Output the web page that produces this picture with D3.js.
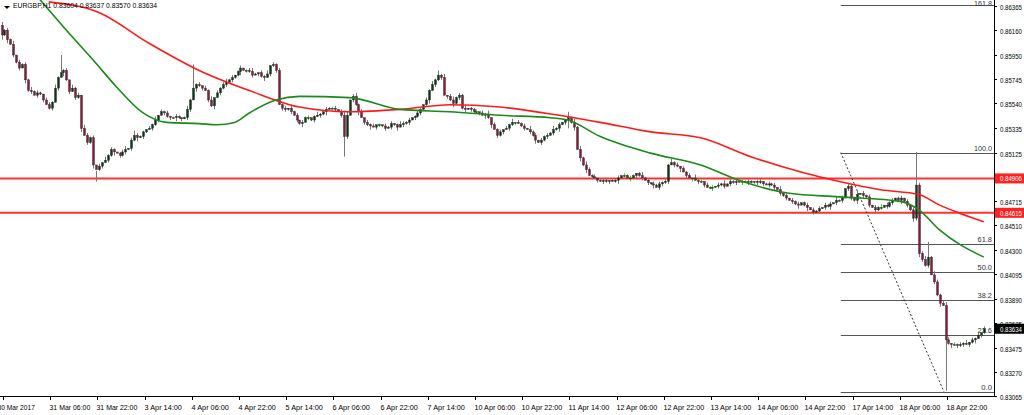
<!DOCTYPE html>
<html>
<head>
<meta charset="utf-8">
<script src="https://cdn.jsdelivr.net/npm/d3@7"></script>
<style>
  body { margin: 0; background: #fff; }
  text { font-family: "Liberation Sans", Arial, sans-serif; font-size: 8px; }
</style>
</head>
<body>
<svg id="chart"></svg>
<script>
let width = 1024;
let height = 415;
let plotRight = 994;
let plotBottom = 396;

// closes in pips (0.0001), one per hourly bar
let closes = [
  8612,8616,8608,8604,8595,8589,8584,8587,8574,8565,8564,8561,8563,8562,8557,8553,
  8550,8555,8567,8576,8580,8582,8574,8564,8567,8559,8561,8533,8527,8521,8525,8502,
  8498,8501,8504,8506,8510,8515,8513,8512,8510,8513,8515,8516,8523,8527,8525,8526,
  8530,8532,8533,8536,8540,8544,8547,8546,8543,8542,8542,8543,8542,8541,8542,8549,
  8557,8567,8570,8569,8567,8565,8557,8552,8559,8563,8567,8570,8572,8574,8576,8578,
  8581,8584,8582,8582,8581,8578,8579,8580,8577,8576,8579,8586,8587,8582,8553,8550,
  8549,8550,8547,8544,8540,8537,8538,8542,8542,8540,8543,8544,8545,8547,8549,8550,
  8550,8549,8547,8544,8526,8544,8557,8560,8553,8547,8542,8538,8536,8535,8534,8536,
  8536,8535,8533,8534,8537,8536,8534,8536,8537,8538,8540,8542,8543,8546,8549,8553,
  8557,8565,8570,8574,8578,8576,8561,8560,8557,8554,8559,8561,8550,8549,8550,8549,
  8547,8547,8546,8544,8545,8542,8536,8532,8527,8530,8532,8533,8536,8538,8538,8537,
  8535,8533,8532,8530,8527,8523,8521,8523,8526,8527,8529,8532,8533,8536,8538,8540,
  8542,8538,8534,8515,8508,8502,8498,8493,8492,8491,8489,8488,8489,8488,8489,8488,
  8489,8491,8493,8493,8491,8491,8493,8495,8493,8491,8489,8487,8486,8485,8483,8486,
  8487,8488,8502,8504,8502,8501,8499,8496,8493,8491,8491,8489,8488,8488,8485,8483,
  8483,8483,8484,8485,8486,8484,8486,8488,8487,8488,8488,8488,8488,8487,8488,8488,
  8487,8488,8486,8485,8486,8485,8483,8481,8478,8476,8474,8472,8471,8469,8468,8470,
  8468,8466,8464,8462,8463,8465,8466,8468,8467,8469,8470,8472,8472,8474,8482,8484,
  8474,8472,8477,8478,8476,8475,8468,8466,8464,8466,8466,8468,8467,8470,8472,8474,
  8472,8474,8471,8468,8464,8457,8485,8427,8422,8417,8424,8409,8403,8392,8385,8383,
  8354,8351,8350,8350,8349,8350,8351,8350,8352,8354,8355,8358,8360,8363.4
];
let firstOpen = 8620;

// upper / lower wick lengths in pips, one digit per bar
let upperWicks =
  "3121302121312102" + "2131512031203212" + "1203121012302421" + "1021302120121013" +
  "1312021302123120" + "1201231021302121" + "2031202120131021" + "1202130231202120" +
  "1021201321201210" + "2131513023121201" + "1202130212021302" + "1203120212131201" +
  "2131313212021202" + "1202121013120212" + "1213120212031202" + "1202130212021210" +
  "1201212031202120" + "1202120212031202" + "2130212021302120" + "1202121223213212" +
  "1202121302120212";
let lowerWicks =
  "2130212031202120" + "1202131202130213" + "2120213021202130" + "2102120212031202" +
  "2031202130212021" + "1302120213021202" + "2120213021202130" + "1202120213021302" +
  "2120213021202120" + "1302120213021202" + "2120313021202120" + "1202130212021302" +
  "2130313021202120" + "1302130212021302" + "2120213021302120" + "1302120212031202" +
  "2120213021202130" + "1302120213021202" + "2130212031202120" + "1302130321202130" +
  "2130212021302120";
// bars with long wicks: [bar, high, low]
let spikeBars = [
  [0, 8623, 8608], [20, 8595, 8578], [32, 8497, 8488], [65, 8587, 8564],
  [116, 8548, 8509], [148, 8582, 8573], [192, 8547, 8533], [310, 8513, 8455],
  [314, 8437, 8415], [320, 8386, 8311]
];

// moving averages sampled at bar positions (pips)
let redMaBars = [16,33,50,67,84,101,118,135,152,169,189,203,220,237,254,271,284,298,311,318,325,333];
let redMaVals = [8640,8631,8605,8582,8565,8551,8547,8549,8553,8551,8544,8538,8530,8525,8509,8496,8488,8481,8477,8468,8461,8454];
let greenMaBars = [13,22,31,39,48,56,67,73,79,84,93,101,118,135,152,169,186,192,203,220,237,250,267,284,305,311,318,333];
let greenMaVals = [8642,8616,8591,8568,8546,8538,8537,8536,8538,8546,8557,8560,8559,8549,8547,8544,8542,8540,8526,8512,8502,8489,8478,8475,8471,8464,8447,8424];

let priceTicks = [0.86365,0.86160,0.85950,0.85745,0.85540,0.85335,0.85125,0.84715,0.84510,0.84300,0.84095,0.83890,0.83685,0.83475,0.83270,0.83065];
let timeLabels = ["30 Mar 2017","31 Mar 06:00","31 Mar 22:00","3 Apr 14:00","4 Apr 06:00","4 Apr 22:00",
  "5 Apr 14:00","6 Apr 06:00","6 Apr 22:00","7 Apr 14:00","10 Apr 06:00","10 Apr 22:00","11 Apr 14:00",
  "12 Apr 06:00","12 Apr 22:00","13 Apr 14:00","14 Apr 06:00","14 Apr 22:00","17 Apr 14:00","18 Apr 06:00","18 Apr 22:00"];
let levels = [0.84906, 0.84615];
let lastPrice = 0.83634;
let fibHigh = 0.85125, fibLow = 0.83100;
let fibRatios = [0, 23.6, 38.2, 50, 61.8, 100, 161.8];

let bars = closes.map((c, i) => {
  let o = i === 0 ? firstOpen : closes[i - 1];
  let h = Math.max(o, c) + +upperWicks[i];
  let l = Math.min(o, c) - +lowerWicks[i];
  return { i, o: o / 1e4, c: c / 1e4, h: h / 1e4, l: l / 1e4 };
});
spikeBars.forEach(([i, h, l]) => { bars[i].h = h / 1e4; bars[i].l = l / 1e4; });

let xScale = d3.scaleLinear().domain([0, 333]).range([1.5, 983.85]);
let yScale = d3.scaleLinear().domain([0.83065, 0.86365]).range([plotBottom, 6]);

let svg = d3.select('#chart').attr('width', width).attr('height', height);

svg.append('defs').append('clipPath').attr('id', 'plot')
  .append('rect').attr('x', 0).attr('y', 0).attr('width', plotRight).attr('height', plotBottom);
let plot = svg.append('g').attr('clip-path', 'url(#plot)');

// support lines
plot.selectAll('.level').data(levels).enter().append('line')
  .attr('x1', 0).attr('x2', plotRight)
  .attr('y1', d => yScale(d)).attr('y2', d => yScale(d))
  .attr('stroke', '#ff3030').attr('stroke-width', 2);

// fibonacci
let fibX0 = xScale(284.5);
let fibPrice = r => fibLow + (fibHigh - fibLow) * r / 100;
plot.selectAll('.fib').data(fibRatios).enter().append('line')
  .attr('x1', fibX0).attr('x2', plotRight)
  .attr('y1', d => Math.round(yScale(fibPrice(d))) + 0.5).attr('y2', d => Math.round(yScale(fibPrice(d))) + 0.5)
  .attr('stroke', '#555').attr('stroke-width', 1);
plot.selectAll('.fibText').data(fibRatios).enter().append('text')
  .attr('x', plotRight - 2).attr('y', d => Math.max(6, yScale(fibPrice(d)) - 2))
  .attr('text-anchor', 'end').attr('fill', '#333')
  .attr('textLength', d => d.toFixed(1).length * 3.6).attr('lengthAdjust', 'spacingAndGlyphs')
  .text(d => d.toFixed(1));
plot.append('line')
  .attr('x1', fibX0).attr('y1', yScale(fibHigh)).attr('x2', xScale(319.5)).attr('y2', yScale(fibLow))
  .attr('stroke', '#333').attr('stroke-dasharray', '2,2');

// candles
let candle = plot.selectAll('.bar').data(bars).enter().append('g');
candle.append('line')
  .attr('x1', d => Math.round(xScale(d.i)) + 0.5).attr('x2', d => Math.round(xScale(d.i)) + 0.5)
  .attr('y1', d => yScale(d.h)).attr('y2', d => yScale(d.l))
  .attr('stroke', d => d.c === d.o ? '#00ff00' : '#777').attr('stroke-width', 1);
candle.append('rect')
  .attr('x', d => Math.round(xScale(d.i)) - 0.5)
  .attr('width', 2)
  .attr('y', d => yScale(Math.max(d.o, d.c)))
  .attr('height', d => Math.max(1, Math.abs(yScale(d.o) - yScale(d.c))))
  .attr('fill', d => d.c > d.o ? '#0a3a12' : '#8a1c3a')
  .attr('stroke', '#222').attr('stroke-width', 0.4);

// moving averages
let line = d3.line().x(d => xScale(d[0])).y(d => yScale(d[1] / 1e4)).curve(d3.curveMonotoneX);
plot.append('path').datum(redMaBars.map((b, k) => [b, redMaVals[k]]))
  .attr('d', line).attr('fill', 'none').attr('stroke', '#ff1a1a').attr('stroke-width', 1.6);
plot.append('path').datum(greenMaBars.map((b, k) => [b, greenMaVals[k]]))
  .attr('d', line).attr('fill', 'none').attr('stroke', '#1a8a1a').attr('stroke-width', 1.6);

// price axis
svg.append('line').attr('x1', plotRight + 0.5).attr('x2', plotRight + 0.5).attr('y1', 0).attr('y2', plotBottom + 1).attr('stroke', '#000');
svg.append('line').attr('x1', 0).attr('x2', plotRight + 1).attr('y1', plotBottom + 0.5).attr('y2', plotBottom + 0.5).attr('stroke', '#000');
let pAxis = svg.selectAll('.ptick').data(priceTicks).enter().append('g')
  .attr('transform', d => `translate(${plotRight}, ${Math.round(yScale(d)) + 0.5})`);
pAxis.append('line').attr('x1', 0).attr('x2', 3).attr('stroke', '#000');
pAxis.append('text').attr('x', 6).attr('y', 3).attr('fill', '#000')
  .attr('textLength', 22).attr('lengthAdjust', 'spacingAndGlyphs').text(d => d.toFixed(5));

let tags = levels.map(v => ({ v, fill: '#ff2020' })).concat([{ v: lastPrice, fill: '#000' }]);
let tag = svg.selectAll('.tag').data(tags).enter().append('g')
  .attr('transform', d => `translate(${plotRight + 1}, ${yScale(d.v)})`);
tag.append('rect').attr('x', 0).attr('y', -5).attr('width', 29).attr('height', 10).attr('fill', d => d.fill);
tag.append('text').attr('x', 5).attr('y', 3).attr('fill', '#fff')
  .attr('textLength', 22).attr('lengthAdjust', 'spacingAndGlyphs').text(d => d.v.toFixed(5));

// time axis
let tAxis = svg.selectAll('.ttick').data(timeLabels).enter().append('g')
  .attr('transform', (d, k) => `translate(${Math.round(xScale(16 * k + 0.5)) + 0.5}, ${plotBottom})`);
tAxis.append('line').attr('y1', 0).attr('y2', 4).attr('stroke', '#000');
tAxis.append('text').attr('x', (d, k) => k === 0 ? -6 : -1).attr('y', 14).attr('fill', '#000')
  .attr('textLength', d => d.length * 3.4).attr('lengthAdjust', 'spacingAndGlyphs').text(d => d);

// header
svg.append('path').attr('d', 'M4,6 L10,6 L7,9 Z').attr('fill', '#000');
svg.append('text').attr('x', 13).attr('y', 8).attr('fill', '#000')
  .attr('textLength', 144).attr('lengthAdjust', 'spacingAndGlyphs')
  .text('EURGBP,H1  0.83604 0.83637 0.83570 0.83634');
</script>
</body>
</html>
